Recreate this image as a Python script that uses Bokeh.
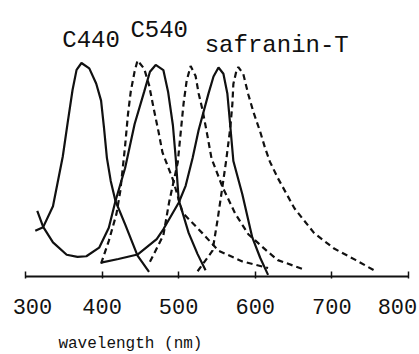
from bokeh.plotting import figure
from bokeh.models import Range1d, LinearAxis, FixedTicker, Label
from bokeh.embed import file_html
from bokeh.resources import INLINE

# ---------------- data ----------------
tick_values = [300, 400, 500, 600, 700, 800]
tick_labels = ["300", "400", "500", "600", "700", "800"]
x_title = "wavelength (nm)"
dye_names = ["C440", "C540", "safranin-T"]

# absorption (solid)
c440_abs_wl = [312.8, 323.1, 335.9, 348.7, 355.1, 361.5, 366.7, 373.1, 383.3, 392.3,
               398.7, 402.5, 406.3, 411.3, 417.5, 430.0, 446.3, 461.3]
c440_abs = [0.214, 0.231, 0.329, 0.561, 0.719, 0.873, 0.966, 0.998, 0.973, 0.902,
            0.822, 0.696, 0.555, 0.447, 0.353, 0.245, 0.098, 0.022]

c540_abs_wl = [315.4, 323.1, 335.9, 353.8, 367.9, 379.5, 396.2, 408.8, 417.5, 430.0,
               442.5, 455.0, 462.5, 470.0, 480.0, 486.3, 492.5, 496.3, 500.0, 513.0,
               524.7, 535.1]
c540_abs = [0.307, 0.232, 0.160, 0.102, 0.092, 0.095, 0.135, 0.228, 0.353, 0.506,
            0.713, 0.864, 0.957, 0.989, 0.965, 0.861, 0.706, 0.547, 0.359, 0.204,
            0.105, 0.030]

saf_abs_wl = [398.7, 421.3, 446.3, 471.3, 480.0, 500.0, 509.1, 518.2, 526.0, 539.0,
              545.5, 552.0, 558.4, 563.6, 567.5, 571.4, 583.1, 596.1, 606.4, 616.7]
saf_abs = [0.065, 0.082, 0.103, 0.175, 0.221, 0.345, 0.424, 0.554, 0.684, 0.856,
           0.935, 0.977, 0.948, 0.854, 0.699, 0.540, 0.385, 0.183, 0.088, 0.008]

# emission (dashed)
c440_em_wl = [398.7, 408.8, 418.8, 423.8, 430.0, 433.8, 437.5, 442.5, 446.3, 455.0,
              461.3, 467.5, 473.8, 478.8, 492.5, 505.2, 531.2, 552.0, 583.1, 616.7]
c440_em = [0.061, 0.167, 0.293, 0.400, 0.608, 0.758, 0.866, 0.959, 1.010, 0.971,
           0.896, 0.783, 0.675, 0.581, 0.453, 0.298, 0.202, 0.121, 0.071, 0.040]

c540_em_wl = [462.5, 480.0, 487.5, 498.8, 502.6, 506.5, 510.4, 515.6, 522.1, 526.0,
              531.2, 537.7, 542.9, 557.1, 574.0, 590.9, 616.7, 629.5, 661.5]
c540_em = [0.069, 0.193, 0.347, 0.533, 0.672, 0.812, 0.914, 0.984, 0.937, 0.857,
           0.778, 0.655, 0.552, 0.420, 0.293, 0.198, 0.115, 0.077, 0.036]

saf_em_wl = [524.7, 544.2, 550.6, 557.1, 562.3, 567.5, 570.1, 571.4, 575.3, 577.9,
             584.4, 590.9, 597.4, 606.4, 612.8, 619.2, 629.5, 651.3, 676.9, 702.9,
             731.4, 755.7]
saf_em = [0.025, 0.121, 0.261, 0.419, 0.550, 0.699, 0.806, 0.900, 0.960, 0.979,
          0.946, 0.851, 0.771, 0.677, 0.601, 0.536, 0.460, 0.318, 0.203, 0.131,
          0.077, 0.028]

# ---------------- figure ----------------
FONT = "Liberation Mono"
INK = "#111111"

p = figure(width=419, height=354, output_backend="svg", toolbar_location=None,
           x_range=Range1d(267.4, 814.4), y_range=Range1d(-0.364, 1.290),
           x_axis_type=None, y_axis_type=None,
           min_border=0)
p.outline_line_color = None
p.background_fill_color = "white"
p.border_fill_color = "white"

axis = LinearAxis(ticker=FixedTicker(ticks=tick_values),
                  fixed_location=0, bounds=(tick_values[0], tick_values[-1]),
                  axis_line_width=2, axis_line_color=INK,
                  major_tick_in=5, major_tick_out=2,
                  major_tick_line_width=1.5, major_tick_line_color=INK,
                  minor_tick_line_color=None,
                  major_label_text_color=None)
p.add_layout(axis, "below")

solid = dict(line_color=INK, line_width=2.2)
dashed = dict(line_color=INK, line_width=2.2, line_dash="6 4")

p.line(c440_abs_wl, c440_abs, **solid)
p.line(c540_abs_wl, c540_abs, **solid)
p.line(saf_abs_wl, saf_abs, **solid)
p.line(c440_em_wl, c440_em, **dashed)
p.line(c540_em_wl, c540_em, **dashed)
p.line(saf_em_wl, saf_em, **dashed)

# dye names
name_pos = [(348, 1.103), (437, 1.150), (534, 1.079)]
for name, (nx, ny) in zip(dye_names, name_pos):
    p.add_layout(Label(x=nx, y=ny, text=name, text_font=FONT,
                       text_font_size="24px", text_color=INK,
                       text_align="left", text_baseline="alphabetic"))

# tick labels (set under the axis line)
edge_shift = {300: 7, 800: -11}
for t, lab in zip(tick_values, tick_labels):
    p.add_layout(Label(x=t, y=0, x_offset=edge_shift.get(t, 0), y_offset=-30,
                       text=lab, text_font=FONT, text_font_size="22px",
                       text_color=INK, text_align="center",
                       text_baseline="alphabetic"))

# axis title
p.add_layout(Label(x=343, y=0, y_offset=-67, text=x_title, text_font=FONT,
                   text_font_size="16px", text_color=INK,
                   text_align="left", text_baseline="alphabetic"))

open("out.html", "w").write(file_html(p, INLINE))
